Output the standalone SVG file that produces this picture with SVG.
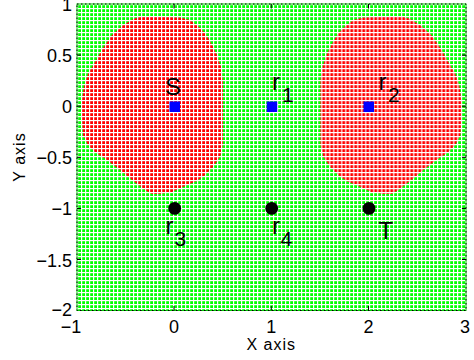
<svg xmlns="http://www.w3.org/2000/svg" width="474" height="360" viewBox="0 0 474 360">
<style>
.tick{font-family:"Liberation Sans",Arial,sans-serif;font-size:18px;fill:#000}
.lbl{font-family:"Liberation Sans",Arial,sans-serif;font-size:24px;fill:#000}
.sub{font-family:"Liberation Sans",Arial,sans-serif;font-size:21px;fill:#000}
.axl{font-family:"Liberation Sans",Arial,sans-serif;font-size:16px;letter-spacing:1px;fill:#000}
.sq{fill:#0000ff}
.dot{fill:#000}
.tk{stroke:#000;stroke-width:1;fill:none}
</style>
<defs>
<pattern id="pg" patternUnits="userSpaceOnUse" x="77" y="4" width="4" height="4">
<rect width="4" height="4" fill="#00ff00"/>
<rect width="4" height="1.2" fill="#ffffff"/>
<rect width="1.2" height="4" fill="#ffffff"/>
</pattern>
<pattern id="pr" patternUnits="userSpaceOnUse" x="77" y="4" width="4" height="4">
<rect width="4" height="4" fill="#ff0000"/>
<rect width="4" height="1.2" fill="#ffffff"/>
<rect width="1.2" height="4" fill="#ffffff"/>
</pattern>
<polygon id="blob" points="140,17 165,17 180,17.5 190,20 198,26 205,33 211,43 217,55 221,67 223,80 223,145 220,157 213,167 205,175 197,181 185,186 172,192 160,194 152,194 145,190 132,180 120,170 107,160 95,152 88,145 83,135 82,120 82,100 84,86 88,74 95,62 103,48 112,35 122,26 133,19"/>
</defs>
<rect width="474" height="360" fill="#ffffff"/>
<g id="plot">
<rect x="77" y="4" width="389" height="306.5" fill="url(#pg)"/>
<use href="#blob" fill="url(#pr)"/>
<use href="#blob" fill="url(#pr)" transform="matrix(-1 0 0 1 543.4 0)"/>
<rect x="77" y="4" width="389" height="306.5" fill="none" stroke="#00cc00" stroke-width="1"/>
<rect x="77" y="4" width="389" height="306.5" fill="none" stroke="#000" stroke-width="1" stroke-dasharray="1.5 2.5"/>
<path class="tk" d="M174,310.5V306M271.25,310.5V306M368.5,310.5V306M174,4V8.5M271.25,4V8.5M368.5,4V8.5M77,55.1H81M77,106.2H81M77,157.3H81M77,208.5H81M77,259.5H81M466,55.1H462M466,106.2H462M466,157.3H462M466,208.5H462M466,259.5H462"/>
</g>
<g id="yticks" text-anchor="end">
<text class="tick" x="72" y="11">1</text>
<text class="tick" x="72" y="62">0.5</text>
<text class="tick" x="72" y="113">0</text>
<text class="tick" x="72" y="164">−0.5</text>
<text class="tick" x="72" y="215">−1</text>
<text class="tick" x="72" y="267">−1.5</text>
<text class="tick" x="72" y="315.5">−2</text>
</g>
<g id="xticks" text-anchor="middle">
<text class="tick" x="71" y="332.5">−1</text>
<text class="tick" x="174" y="332.5">0</text>
<text class="tick" x="271.25" y="332.5">1</text>
<text class="tick" x="368.5" y="332.5">2</text>
<text class="tick" x="465" y="332.5">3</text>
</g>
<text class="axl" x="271.3" y="350" text-anchor="middle">X axis</text>
<text class="axl" transform="translate(25,157) rotate(-90)" text-anchor="middle">Y axis</text>
<g id="connectors"/>
<g id="S">
<rect class="sq" x="169.5" y="101.5" width="10.5" height="10.5"/>
<text class="lbl" x="165" y="95">S</text>
</g>
<g id="r1">
<rect class="sq" x="266.7" y="101.5" width="10.5" height="10.5"/>
<text class="lbl" x="272" y="89.5">r</text>
<text class="sub" x="282" y="101.7">1</text>
</g>
<g id="r2">
<rect class="sq" x="363.5" y="101.5" width="10.5" height="10.5"/>
<text class="lbl" x="378.5" y="90">r</text>
<text class="sub" x="388" y="101.7">2</text>
</g>
<g id="r3">
<circle class="dot" cx="174.7" cy="208.4" r="6.4"/>
<text class="lbl" x="165.5" y="233.5">r</text>
<text class="sub" x="174.5" y="245.7">3</text>
</g>
<g id="r4">
<circle class="dot" cx="271.7" cy="208.4" r="6.4"/>
<text class="lbl" x="272" y="233.5">r</text>
<text class="sub" x="280.5" y="245.7">4</text>
</g>
<g id="T">
<circle class="dot" cx="369" cy="208.4" r="6.4"/>
<text class="lbl" x="378.5" y="238.5">T</text>
</g>
</svg>
